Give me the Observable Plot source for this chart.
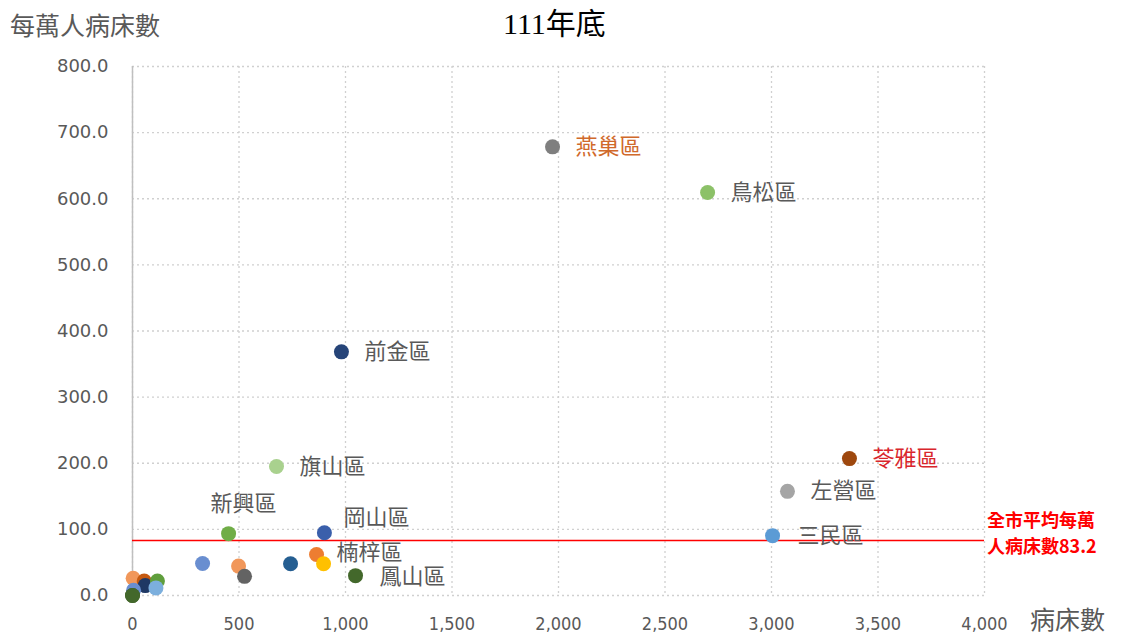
<!DOCTYPE html>
<html>
<head>
<meta charset="utf-8">
<script src="https://cdn.jsdelivr.net/npm/d3@7"></script>
<script src="https://cdn.jsdelivr.net/npm/@observablehq/plot@0.6"></script>
<style>
  html, body { margin: 0; padding: 0; background: #fff; }
  #wrap { position: relative; width: 1126px; height: 635px; overflow: hidden; }
  .t { position: absolute; white-space: nowrap; line-height: 1; }
  #title { left: 503px; top: 9px; font-family: "Liberation Serif", "Noto Sans CJK TC", serif; font-size: 30px; color: #000; }
  #ylab { left: 10px; top: 12px; font-family: "Noto Sans CJK TC", sans-serif; font-size: 25px; color: #595959; }
  #xlab { left: 1030px; top: 606px; font-family: "Noto Sans CJK TC", sans-serif; font-size: 25px; color: #595959; }
  #avg { left: 987px; top: 506px; font-family: "Noto Sans CJK TC", sans-serif; font-weight: bold; font-size: 18px; color: #ff0000; line-height: 26px; }
  svg { position: absolute; left: 0; top: 0; }
</style>
</head>
<body>
<div id="wrap"></div>
<script>
// ---- data ----
const districts = ["燕巢區","鳥松區","前金區","苓雅區","左營區","三民區","旗山區","新興區","岡山區","楠梓區","","鳳山區","","","","","","","","","","","",""];
const beds      = [1972, 2700, 981, 3366, 3075, 3005, 676, 451, 901, 864, 897, 1047, 329, 498, 526, 742, 3, 55, 60, 117, 110, 5, 0, 0];
const perTenK   = [678.5, 609.5, 368.5, 207.0, 157.5, 90.5, 195.0, 93.5, 95.0, 62.0, 48.0, 30.0, 48.5, 44.5, 29.0, 48.0, 26.0, 22.0, 15.0, 22.0, 11.5, 8.0, 0.0, 0.0];
const colors    = ["#7f7f7f","#8cc168","#264478","#9e480e","#a5a5a5","#5b9bd5","#a9d18e","#70ad47","#3a5fab","#ed7d31","#ffc000","#43682b","#698ed0","#f1975a","#636363","#255e91","#f1975a","#c55a11","#1f3864","#5f9e3c","#7cafdd","#698ed0","#3b5a24","#43682b"];
const cityAverage = 83.2;
const xTicks = [0, 500, 1000, 1500, 2000, 2500, 3000, 3500, 4000];
const yTicks = [0, 100, 200, 300, 400, 500, 600, 700, 800];

const data = districts.map((name, i) => ({name, beds: beds[i], rate: perTenK[i], color: colors[i]}));

// label placement (styling)
const labelStyle = {
  "燕巢區": {dx: 23, dy: 0, fill: "#d0692b"},
  "苓雅區": {dx: 23, dy: 0, fill: "#d9262c"},
  "新興區": {dx: 15, dy: -30, anchor: "middle"},
  "岡山區": {dx: 19, dy: -15},
  "楠梓區": {dx: 20, dy: -2},
  "鳳山區": {dx: 24, dy: 1},
  "三民區": {dx: 25, dy: 0}
};

const labelMarks = data.filter(d => d.name).map(d => {
  const s = labelStyle[d.name] || {};
  return Plot.text([d], {
    x: "beds", y: "rate", text: "name",
    dx: s.dx ?? 23, dy: s.dy ?? 0,
    textAnchor: s.anchor || "start",
    fill: s.fill || "#595959",
    fontSize: 22,
    fontFamily: "Noto Sans CJK TC"
  });
});

const chart = Plot.plot({
  width: 1126,
  height: 635,
  marginLeft: 132,
  marginRight: 142,
  marginTop: 66,
  marginBottom: 40,
  style: {background: "transparent", overflow: "visible"},
  x: {domain: [0, 4000], ticks: xTicks},
  y: {domain: [0, 800], ticks: yTicks},
  marks: [
    Plot.gridX(xTicks, {stroke: "#d0d0d0", strokeOpacity: 1, strokeDasharray: "2,3", strokeWidth: 1.3}),
    Plot.gridY(yTicks, {stroke: "#d0d0d0", strokeOpacity: 1, strokeDasharray: "2,3", strokeWidth: 1.3}),
    Plot.ruleX([0], {stroke: "#bfbfbf", strokeWidth: 1.5}),
    Plot.axisX(xTicks, {tickSize: 0, tickPadding: 22, tickFormat: d3.format(","), fontSize: 18, fontFamily: "DejaVu Sans Condensed", fill: "#595959", label: null}),
    Plot.axisY(yTicks, {tickSize: 0, tickPadding: 24, tickFormat: d3.format(".1f"), fontSize: 18, fontFamily: "DejaVu Sans", fill: "#595959", label: null}),
    Plot.ruleY([cityAverage], {x1: 0, x2: 4000, stroke: "#ff0000", strokeWidth: 1.5}),
    Plot.dot(data, {x: "beds", y: "rate", r: 7.5, fill: "color", stroke: null}),
    ...labelMarks
  ]
});

const wrap = document.getElementById("wrap");
wrap.appendChild(chart);
const add = (id, html) => { const d = document.createElement("div"); d.className = "t"; d.id = id; d.innerHTML = html; wrap.appendChild(d); };
add("title", "111年底");
add("ylab", "每萬人病床數");
add("xlab", "病床數");
add("avg", "全市平均每萬<br>人病床數" + cityAverage.toFixed(1));
</script>
</body>
</html>
